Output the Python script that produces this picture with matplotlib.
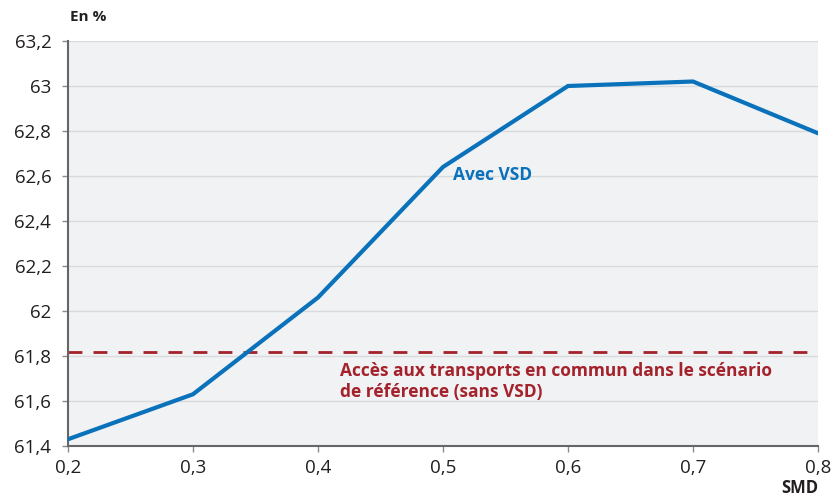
import matplotlib
matplotlib.use("Agg")
import matplotlib.pyplot as plt

smd = [0.2, 0.3, 0.4, 0.5, 0.6, 0.7, 0.8]
avec_vsd = [61.43, 61.63, 62.06, 62.64, 63.0, 63.02, 62.79]
reference = 61.82
y_ticks = [61.4, 61.6, 61.8, 62.0, 62.2, 62.4, 62.6, 62.8, 63.0, 63.2]
y_labels = ["61,4", "61,6", "61,8", "62", "62,2", "62,4", "62,6", "62,8", "63", "63,2"]
x_labels = ["0,2", "0,3", "0,4", "0,5", "0,6", "0,7", "0,8"]

plt.rcParams["font.family"] = ["Open Sans", "DejaVu Sans"]
BLUE = "#0a72ba"
RED = "#a3222b"
TXT = "#231f20"

fig = plt.figure(figsize=(8.33, 4.97), dpi=100)
ax = fig.add_axes([0.0816, 0.1026, 0.9004, 0.8149])
ax.set_facecolor("#f1f2f4")

for y in y_ticks:
    ax.axhline(y, color="#d9dadc", lw=1, zorder=1)
ax.plot(smd, avec_vsd, color=BLUE, lw=3, zorder=3, solid_joinstyle="miter")
ax.axhline(reference, color=RED, lw=2, ls=(0, (5, 4)), zorder=2)

ax.set_xlim(0.2, 0.8)
ax.set_ylim(61.4, 63.2)
ax.set_xticks(smd)
ax.set_xticklabels(x_labels)
ax.set_yticks(y_ticks)
ax.set_yticklabels(y_labels)
ax.tick_params(axis="both", labelsize=13.5, colors="#8a8a8a", labelcolor=TXT,
               length=4, width=1)
ax.tick_params(axis="y", pad=8)
ax.tick_params(axis="x", pad=5)
for s in ["top", "right"]:
    ax.spines[s].set_visible(False)
for s in ["left", "bottom"]:
    ax.spines[s].set_color("#666666")
    ax.spines[s].set_linewidth(1.5)

ax.text(0.508, 62.605, "Avec VSD", color=BLUE, fontsize=12.5, fontweight="bold",
        va="center", ha="left")
ax.text(0.4176, 61.688, "Accès aux transports en commun dans le scénario\nde référence (sans VSD)",
        color=RED, fontsize=12.5, fontweight="bold", va="center", ha="left",
        linespacing=1.2)
fig.text(0.084, 0.965, "En %", fontsize=11, fontweight="bold", color=TXT,
         ha="left", va="center")
fig.text(0.982, 0.018, "SMD", fontsize=12, fontweight="bold", color=TXT,
         ha="right", va="center")

fig.savefig("out.png", dpi=100)
